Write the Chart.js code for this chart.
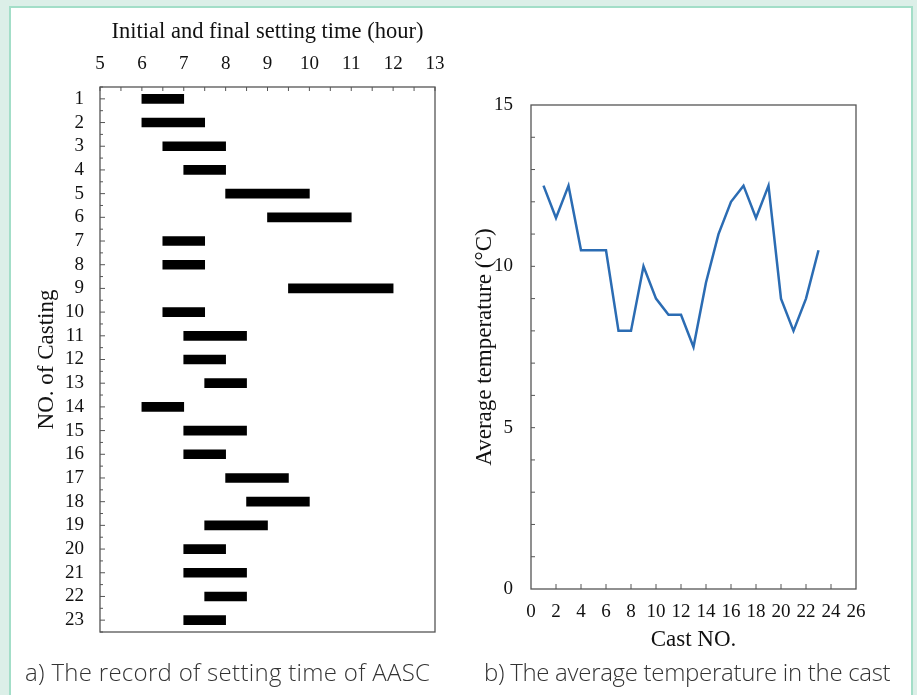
<!DOCTYPE html>
<html>
<head>
<meta charset="utf-8">
<script src="https://cdn.jsdelivr.net/npm/chart.js@4.4.1/dist/chart.umd.min.js"></script>
<style>
  body { margin: 0; background: #dcefe8; width: 917px; height: 695px; overflow: hidden; position: relative; }
  .card { position: absolute; left: 9px; top: 6px; width: 900px; height: 700px; background: #fff;
          border: 2px solid #a3dec8; border-bottom: none; }
  canvas { position: absolute; top: 0; }
  #settingChart { left: 0; }
  #tempChart { left: 460px; }
  .cap { position: absolute; top: 655px; font-family: 'Open Sans', sans-serif; font-weight: 300;
         font-size: 24px; line-height: 34px; color: #333; white-space: nowrap; letter-spacing: -0.3px; }
</style>
</head>
<body>
<div class="card"></div>
<canvas id="settingChart" width="460" height="660"></canvas>
<canvas id="tempChart" width="457" height="660"></canvas>
<div class="cap" style="left:25px; letter-spacing:0.3px">a) The record of setting time of AASC</div>
<div class="cap" style="left:484px">b) The average temperature in the cast</div>
<script>
// setting time record per casting (hours)
const castings = ['1','2','3','4','5','6','7','8','9','10','11','12','13','14','15','16','17','18','19','20','21','22','23'];
const initialSet = [6, 6, 6.5, 7, 8, 9, 6.5, 6.5, 9.5, 6.5, 7, 7, 7.5, 6, 7, 7, 8, 8.5, 7.5, 7, 7, 7.5, 7];
const finalSet = [7, 7.5, 8, 8, 10, 11, 7.5, 7.5, 12, 7.5, 8.5, 8, 8.5, 7, 8.5, 8, 9.5, 10, 9, 8, 8.5, 8.5, 8];

// average temperature in the cast
const castNo = [1, 2, 3, 4, 5, 6, 7, 8, 9, 10, 11, 12, 13, 14, 15, 16, 17, 18, 19, 20, 21, 22, 23];
const avgTemp = [12.5, 11.5, 12.5, 10.5, 10.5, 10.5, 8, 8, 10, 9, 8.5, 8.5, 7.5, 9.5, 11, 12, 12.5, 11.5, 12.5, 9, 8, 9, 10.5];

Chart.defaults.font.family = "'Liberation Serif', 'Times New Roman', serif";
Chart.defaults.color = '#111';
Chart.defaults.animation = false;

// box around the plot + small inward ticks
const frameTicks = {
    id: 'frameTicks',
    afterDraw(chart, args, opts) {
        const { ctx, chartArea: a } = chart;
        ctx.save();
        ctx.strokeStyle = '#555';
        ctx.lineWidth = 1.3;
        ctx.strokeRect(a.left, a.top, a.right - a.left, a.bottom - a.top);
        ctx.lineWidth = 1;
        ctx.beginPath();
        opts.xTicks.forEach(t => {
            const px = chart.scales.x.getPixelForValue(t.v);
            const y0 = opts.xEdge === 'top' ? a.top : a.bottom;
            const dir = opts.xEdge === 'top' ? 1 : -1;
            ctx.moveTo(px, y0);
            ctx.lineTo(px, y0 + dir * t.len);
        });
        opts.yTicks.forEach(t => {
            const py = chart.scales.y.getPixelForValue(t.v);
            ctx.moveTo(a.left, py);
            ctx.lineTo(a.left + t.len, py);
        });
        ctx.stroke();
        ctx.restore();
    }
};

function range(from, to, step, len) {
    const out = [];
    for (let v = from; v <= to + 1e-9; v += step) out.push({ v: v, len: len });
    return out;
}

new Chart(document.getElementById('settingChart'), {
    type: 'bar',
    data: {
        labels: castings,
        datasets: [{
            data: castings.map((c, i) => [initialSet[i], finalSet[i]]),
            backgroundColor: '#000',
            barThickness: 9,
            borderSkipped: false
        }]
    },
    options: {
        indexAxis: 'y',
        responsive: false,
        layout: { padding: { top: 0, left: 0, right: 25, bottom: 28 } },
        plugins: {
            legend: { display: false },
            tooltip: { enabled: false },
            frameTicks: {
                xEdge: 'top',
                xTicks: range(5, 13, 0.5, 4),
                yTicks: range(0, 22, 1, 5).concat(range(-0.5, 22.5, 1, 3))
            }
        },
        scales: {
            x: {
                type: 'linear',
                position: 'top',
                min: 5,
                max: 13,
                grid: { display: false, drawTicks: false },
                border: { display: false },
                ticks: { stepSize: 1, padding: 12, font: { size: 19 } },
                title: { display: true, text: 'Initial and final setting time (hour)',
                         font: { size: 22.5 }, padding: { top: 19, bottom: 0 } },
                afterFit: s => { s.height = 87; }
            },
            y: {
                type: 'category',
                offset: true,
                grid: { display: false, drawTicks: false },
                border: { display: false },
                ticks: { padding: 16, font: { size: 19 }, autoSkip: false },
                title: { display: true, text: 'NO. of Casting',
                         font: { size: 23 }, padding: { top: 33, bottom: 0 } },
                afterFit: s => { s.width = 100; }
            }
        }
    },
    plugins: [frameTicks]
});

new Chart(document.getElementById('tempChart'), {
    type: 'line',
    data: {
        datasets: [{
            data: castNo.map((c, i) => ({ x: c, y: avgTemp[i] })),
            borderColor: '#2b6cb3',
            borderWidth: 2.5,
            pointRadius: 0,
            tension: 0,
            fill: false
        }]
    },
    options: {
        responsive: false,
        layout: { padding: { top: 105, left: 0, right: 61, bottom: 0 } },
        plugins: {
            legend: { display: false },
            tooltip: { enabled: false },
            frameTicks: {
                xEdge: 'bottom',
                xTicks: range(2, 24, 2, 5),
                yTicks: range(1, 14, 1, 4)
            }
        },
        scales: {
            x: {
                type: 'linear',
                min: 0,
                max: 26,
                grid: { display: false, drawTicks: false },
                border: { display: false },
                ticks: { stepSize: 2, padding: 12, font: { size: 19 }, maxRotation: 0, autoSkip: false },
                title: { display: true, text: 'Cast NO.',
                         font: { size: 23 }, padding: { top: 0, bottom: 6 } },
                afterFit: s => { s.height = 71; }
            },
            y: {
                type: 'linear',
                min: 0,
                max: 15,
                grid: { display: false, drawTicks: false },
                border: { display: false },
                ticks: { stepSize: 5, padding: 18, font: { size: 19 } },
                title: { display: true, text: 'Average temperature (°C)',
                         font: { size: 23 }, padding: { top: 11, bottom: 0 } },
                afterFit: s => { s.width = 71; }
            }
        }
    },
    plugins: [frameTicks]
});
</script>
</body>
</html>
